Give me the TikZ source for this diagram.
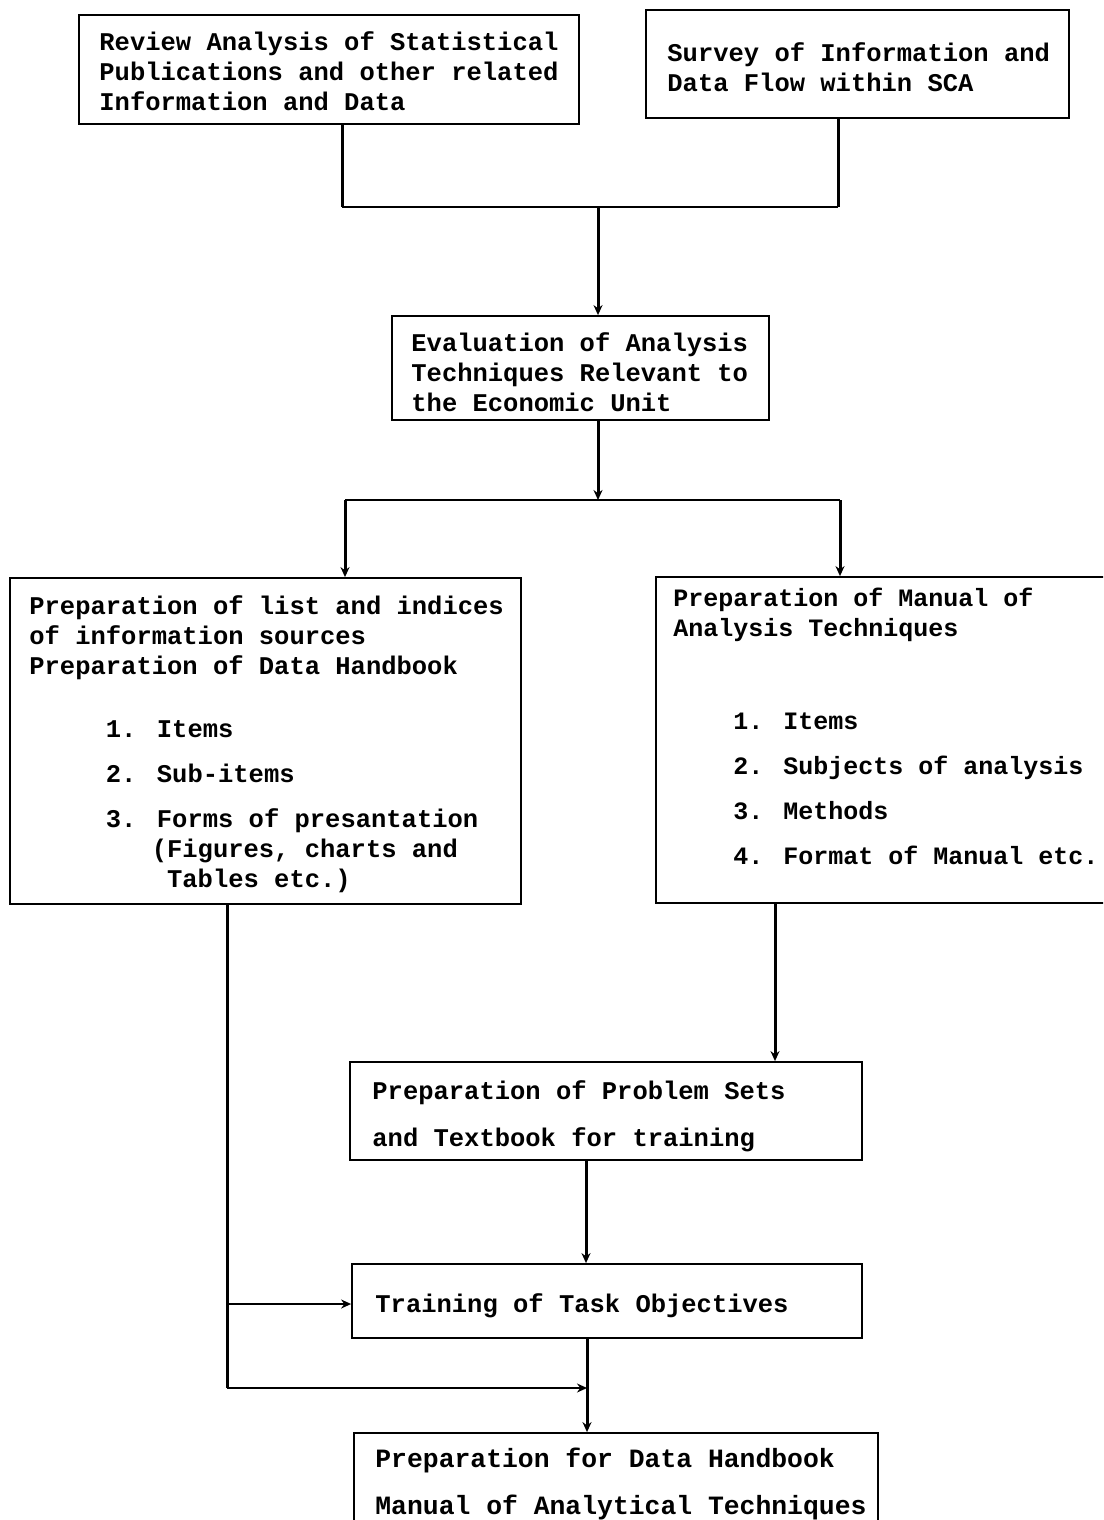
\documentclass[tikz,border=0pt]{standalone}
\usepackage{fontspec}
\setmainfont{Liberation Mono}
\usetikzlibrary{arrows.meta}
\begin{document}
\begin{tikzpicture}[x=0.5pt,y=-0.5pt,
  box/.style={draw, line width=0.9pt, inner sep=0pt, rectangle},
  txt/.style={anchor=north west, inner sep=0pt, align=left, font=\bfseries\fontsize{12.75}{15}\selectfont},
  vline/.style={line width=1.5pt},
  hline/.style={line width=0.8pt},
  tip/.style={-{Stealth[length=5pt,width=4.5pt]}}
]
\useasboundingbox (0,0) rectangle (1103,1520);
\clip (0,0) rectangle (1103,1520);

% boxes
\node[box, minimum width=250pt, minimum height=54.5pt] (A) at (329,69.5) {};
\node[txt] (At) at (99,31) {Review Analysis of Statistical\\Publications and other related\\Information and Data};

\node[box, minimum width=211.5pt, minimum height=54pt] (B) at (857.5,64) {};
\node[txt] (Bt) at (667,42) {Survey of Information and\\Data Flow within SCA};

\node[box, minimum width=188.5pt, minimum height=52pt] (E) at (580.5,368) {};
\node[txt] (Et) at (411,332) {Evaluation of Analysis\\Techniques Relevant to\\the Economic Unit};

\node[box, minimum width=255.5pt, minimum height=163pt] (L) at (265.5,741) {};
\node[txt] (Lt) at (29,595) {Preparation of list and indices\\
of information sources\\
Preparation of Data Handbook\\[16.5pt]
\phantom{xxxxx}1. Items\\[7.5pt]
\phantom{xxxxx}2. Sub-items\\[7.5pt]
\phantom{xxxxx}3. Forms of presantation\\
\phantom{xxxxxxxx}(Figures, charts and\\
\phantom{xxxxxxxxx}Tables etc.)};

\node[box, minimum width=232pt, minimum height=163pt] (R) at (888,740) {};
\node[txt, font=\bfseries\fontsize{12.5}{15}\selectfont] (Rt) at (673,588) {Preparation of Manual of\\
Analysis Techniques\\[31.5pt]
\phantom{xxxx}1. Items\\[7.5pt]
\phantom{xxxx}2. Subjects of analysis\\[7.5pt]
\phantom{xxxx}3. Methods\\[7.5pt]
\phantom{xxxx}4. Format of Manual etc.};

\node[box, minimum width=256pt, minimum height=49pt] (P) at (606,1111) {};
\node[txt] (Pt) at (372,1080) {Preparation of Problem Sets\\[8.5pt]and Textbook for training};

\node[box, minimum width=255pt, minimum height=37pt] (T) at (607,1301) {};
\node[txt] (Tt) at (375,1293) {Training of Task Objectives};

\node[box, minimum width=262pt, minimum height=73.5pt] (F) at (616,1506.5) {};
\node[txt, font=\bfseries\fontsize{13.2}{15}\selectfont] (Ft) at (375,1448) {Preparation for Data Handbook\\[8.5pt]Manual of Analytical Techniques};

% connectors
\coordinate (jA) at (342,207);
\coordinate (jB) at (838,207);
\coordinate (jE) at (598,207);
\draw[vline] (A.south -| jA) -- (jA);
\draw[vline] (B.south -| jB) -- (jB);
\draw[hline] (jA) -- (jB);
\draw[vline,tip] (jE) -- (E.north -| jE);

\coordinate (kE) at (598,500);
\coordinate (kL) at (345,500);
\coordinate (kR) at (840,500);
\draw[vline,tip] (E.south -| kE) -- (kE);
\draw[hline] (kL) -- (kR);
\draw[vline,tip] (kL) -- (L.north -| kL);
\draw[vline,tip] (kR) -- (R.north -| kR);

\coordinate (rP) at (775,0);
\draw[vline,tip] (R.south -| rP) -- (P.north -| rP);
\coordinate (pT) at (586,0);
\draw[vline,tip] (P.south -| pT) -- (T.north -| pT);

\coordinate (lx) at (227,1388);
\coordinate (lt) at (227,1304);
\coordinate (tf) at (587,1388);
\draw[vline] (L.south -| lx) -- (lx);
\draw[hline,tip] (lt) -- (T.west |- lt);
\draw[hline,tip] (lx) -- (tf);
\draw[vline,tip] (T.south -| tf) -- (F.north -| tf);
\end{tikzpicture}
\end{document}
